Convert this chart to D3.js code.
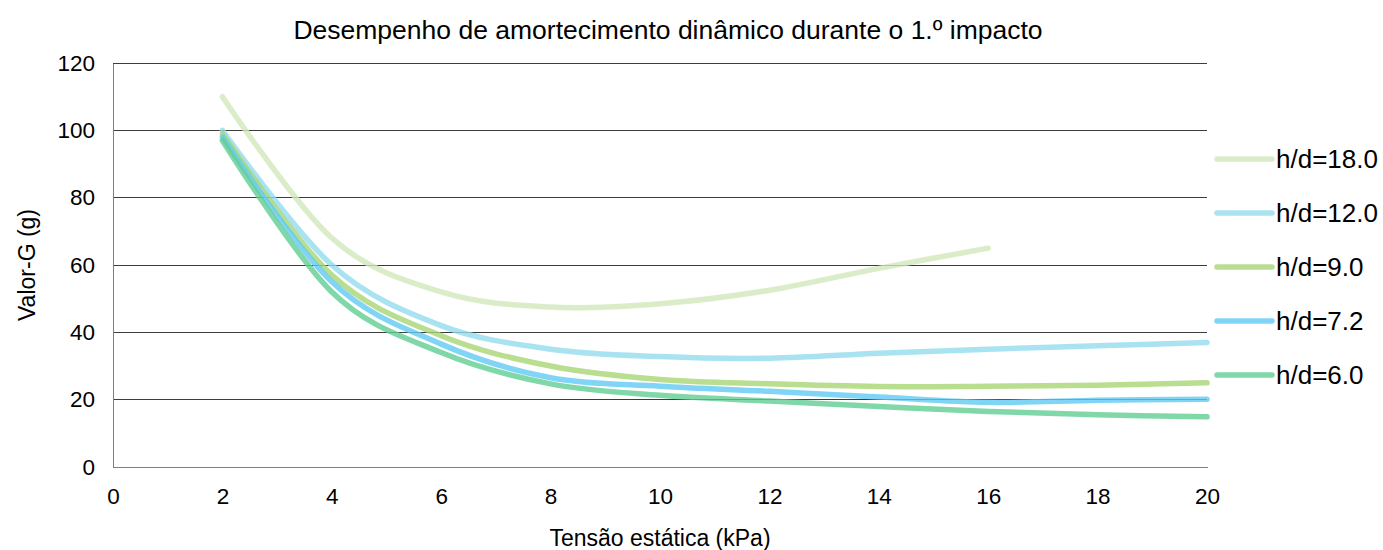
<!DOCTYPE html>
<html>
<head>
<meta charset="utf-8">
<script src="https://cdn.jsdelivr.net/npm/d3@7"></script>
<style>
  html, body { margin: 0; padding: 0; background: #fff; }
  svg { display: block; font-family: "Liberation Sans", Arial, sans-serif; }
</style>
</head>
<body>
<svg id="chart" width="1383" height="550"></svg>
<script>
// Static stress (kPa) at which the G-value was measured
const tensao = [2, 4, 6, 8, 10, 12, 14, 16, 18, 20];

// G-value (g) per height/diameter ratio
const hd180 = [110, 68, 52, 47.5, 48.5, 52.5, 59, 65];
const hd120 = [100, 60, 42, 35, 32.8, 32.3, 33.8, 35, 36, 37];
const hd90  = [99, 57, 39, 30, 26, 24.7, 23.9, 24, 24.3, 25];
const hd72  = [98, 55, 36.5, 26.5, 24, 22.5, 20.8, 19.2, 19.8, 20.1];
const hd60  = [97, 52, 34, 24.7, 21.3, 19.6, 18, 16.5, 15.5, 14.9];

const seriesNames = ["h/d=18.0", "h/d=12.0", "h/d=9.0", "h/d=7.2", "h/d=6.0"];
const seriesValues = [hd180, hd120, hd90, hd72, hd60];
const seriesColors = ["#d1e8ba", "#93dced", "#a8d674", "#60caf4", "#60cd92"];

const xTicks = [0, 2, 4, 6, 8, 10, 12, 14, 16, 18, 20];
const yTicks = [0, 20, 40, 60, 80, 100, 120];

const titulo = "Desempenho de amortecimento dinâmico durante o 1.º impacto";
const tituloX = "Tensão estática (kPa)";
const tituloY = "Valor-G (g)";

const svg = d3.select("#chart");
const plot = { left: 113, right: 1207, top: 63, bottom: 467 };
const tickSize = 22.5, axisTitleSize = 23, titleSize = 26.5, legendSize = 26;

const x = d3.scaleLinear().domain([0, 20]).range([plot.left, plot.right]);
const y = d3.scaleLinear().domain([0, 120]).range([plot.bottom, plot.top]);

// horizontal gridlines
svg.append("g")
  .selectAll("line")
  .data(yTicks.filter(v => v > 0))
  .join("line")
  .attr("x1", plot.left).attr("x2", plot.right)
  .attr("y1", d => y(d)).attr("y2", d => y(d))
  .attr("stroke", "#3c3c3c").attr("stroke-width", 1)
  .attr("shape-rendering", "crispEdges");

// y axis
const yAxis = svg.append("g")
  .attr("transform", `translate(${plot.left},0)`)
  .call(d3.axisLeft(y).tickValues(yTicks).tickSize(0).tickPadding(18));
yAxis.select(".domain").attr("stroke", "#7f7f7f").attr("shape-rendering", "crispEdges");
yAxis.selectAll("text").attr("font-size", tickSize).attr("fill", "#000")
  .attr("font-family", "'Liberation Sans', Arial, sans-serif");

// x axis
const xAxis = svg.append("g")
  .attr("transform", `translate(0,${plot.bottom})`)
  .call(d3.axisBottom(x).tickValues(xTicks).tickSize(0).tickPadding(21));
xAxis.select(".domain").attr("stroke", "#7f7f7f").attr("shape-rendering", "crispEdges");
xAxis.selectAll("text").attr("font-size", tickSize).attr("fill", "#000")
  .attr("font-family", "'Liberation Sans', Arial, sans-serif");

// smoothed series lines
const line = d3.line()
  .x((d, i) => x(tensao[i]))
  .y(d => y(d))
  .curve(d3.curveCardinal.tension(0));

svg.append("g")
  .selectAll("path")
  .data(seriesValues)
  .join("path")
  .attr("d", d => line(d))
  .attr("fill", "none")
  .attr("stroke", (d, i) => seriesColors[i])
  .attr("stroke-opacity", 0.8)
  .attr("stroke-width", 5.5)
  .attr("stroke-linecap", "round")
  .attr("stroke-linejoin", "round");

// legend
const legend = svg.append("g")
  .selectAll("g")
  .data(seriesNames)
  .join("g")
  .attr("transform", (d, i) => `translate(1217,${159 + i * 54})`);
legend.append("line")
  .attr("x1", 0).attr("x2", 55).attr("y1", 0).attr("y2", 0)
  .attr("stroke", (d, i) => seriesColors[i])
  .attr("stroke-opacity", 0.8)
  .attr("stroke-width", 5.5)
  .attr("stroke-linecap", "round");
legend.append("text")
  .attr("x", 59).attr("y", 0).attr("dy", "0.35em")
  .attr("font-size", legendSize).attr("fill", "#000")
  .text(d => d);

// titles
svg.append("text")
  .attr("x", 668).attr("y", 30).attr("dy", "0.35em")
  .attr("text-anchor", "middle").attr("font-size", titleSize).attr("fill", "#000")
  .text(titulo);
svg.append("text")
  .attr("x", 660).attr("y", 538).attr("dy", "0.35em")
  .attr("text-anchor", "middle").attr("font-size", axisTitleSize).attr("fill", "#000")
  .text(tituloX);
svg.append("text")
  .attr("transform", "translate(27,265) rotate(-90)")
  .attr("dy", "0.35em")
  .attr("text-anchor", "middle").attr("font-size", axisTitleSize).attr("fill", "#000")
  .text(tituloY);
</script>
</body>
</html>
